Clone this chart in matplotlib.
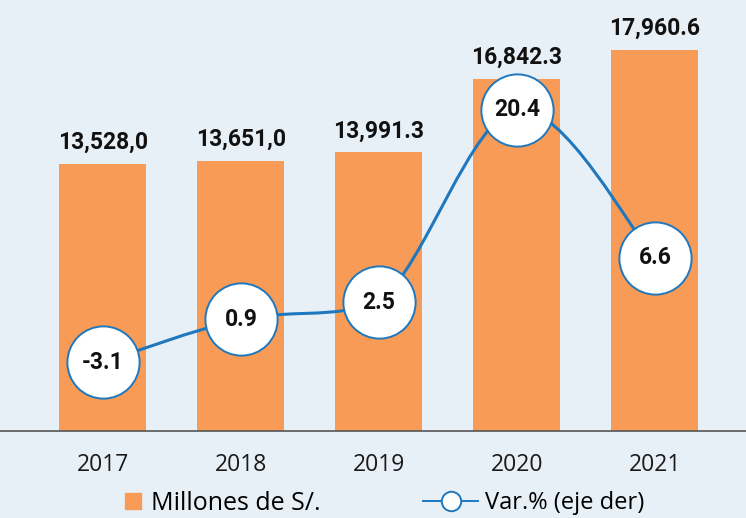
import matplotlib.pyplot as plt
from matplotlib.path import Path
from matplotlib.patches import PathPatch
from matplotlib.lines import Line2D

# Datos del grafico
years = ["2017", "2018", "2019", "2020", "2021"]
millones = [13528.0, 13651.0, 13991.3, 16842.3, 17960.6]
millones_labels = ["13,528,0", "13,651,0", "13,991.3", "16,842.3", "17,960.6"]
var_pct = [-3.1, 0.9, 2.5, 20.4, 6.6]

bg = "#e8f0f7"
orange = "#f89b56"
blue = "#1f78be"
label_font = ["Roboto", "DejaVu Sans"]
text_font = ["Open Sans", "DejaVu Sans"]

fig = plt.figure(figsize=(7.46, 5.18), dpi=100, facecolor=bg)
ax = fig.add_axes([0, 0.168, 1, 0.832])
ax.set_facecolor(bg)

x = list(range(len(years)))
ax.bar(x, millones, width=0.63, color=orange, zorder=2)
ax.set_xlim(-0.746, 4.66)
ax.set_ylim(3150, 19900)

# Etiquetas sobre las barras
for xi, v, lab in zip(x, millones, millones_labels):
    ax.annotate(lab, (xi, v), xytext=(0, 7), textcoords="offset points",
                ha="center", va="bottom", fontsize=16.5, fontweight="bold",
                family=label_font, color="#111111")

ax.set_xticks(x)
ax.set_xticklabels(years, fontsize=16.5, family=text_font, color="#1a1a1a")
ax.tick_params(axis="x", length=0, pad=16)
ax.set_yticks([])
for s in ["top", "right", "left"]:
    ax.spines[s].set_visible(False)
ax.spines["bottom"].set_color("#555555")
ax.spines["bottom"].set_linewidth(1.2)

# Eje derecho: variacion porcentual
ax2 = ax.twinx()
ax2.set_ylim(-9.5, 30.6)
ax2.set_yticks([])
ax2.patch.set_visible(False)
for s in ax2.spines.values():
    s.set_visible(False)

# Linea suavizada, puntos de control acotados para no oscilar
pts = list(zip(x, var_pct))
verts = [pts[0]]
codes = [Path.MOVETO]
for i in range(len(pts) - 1):
    p0 = pts[i - 1] if i > 0 else pts[i]
    p1 = pts[i]
    p2 = pts[i + 1]
    p3 = pts[i + 2] if i + 2 < len(pts) else pts[i + 1]
    lo, hi = min(p1[1], p2[1]), max(p1[1], p2[1])
    c1y = p1[1] + (p2[1] - p0[1]) / 6
    c2y = p2[1] - (p3[1] - p1[1]) / 6
    if i != 3:
        c1y = min(max(c1y, lo), hi)
    if i != 2:
        c2y = min(max(c2y, lo), hi)
    c1 = (p1[0] + (p2[0] - p0[0]) / 6, c1y)
    c2 = (p2[0] - (p3[0] - p1[0]) / 6, c2y)
    verts += [c1, c2, p2]
    codes += [Path.CURVE4] * 3
ax2.add_patch(PathPatch(Path(verts, codes), facecolor="none",
                        edgecolor=blue, lw=2.2, zorder=3))

ax2.plot(x, var_pct, linestyle="none", marker="o", markersize=52,
         markerfacecolor="white", markeredgecolor=blue, markeredgewidth=1.4,
         zorder=4)
for xi, v in zip(x, var_pct):
    ax2.text(xi, v, f"{v:.1f}", ha="center", va="center", fontsize=16.5,
             fontweight="bold", family=label_font, color="#111111", zorder=5)

# Leyendas
h1 = Line2D([], [], linestyle="none", marker="s", markersize=11,
            markerfacecolor=orange, markeredgecolor=orange)
fig.legend([h1], ["Millones de S/."], loc="center left",
           bbox_to_anchor=(0.152, 0.028), frameon=False, handlelength=0.8,
           handletextpad=0.3, borderaxespad=0,
           prop={"family": text_font, "size": 18})
h2 = Line2D([], [], color=blue, lw=1.4, marker="o", markersize=14,
            markerfacecolor="white", markeredgecolor=blue, markeredgewidth=1.4)
fig.legend([h2], ["Var.% (eje der)"], loc="center left",
           bbox_to_anchor=(0.555, 0.028), frameon=False, handlelength=2.3,
           handletextpad=0.3, borderaxespad=0,
           prop={"family": text_font, "size": 17})

fig.savefig("out.png", dpi=100, facecolor=bg)
